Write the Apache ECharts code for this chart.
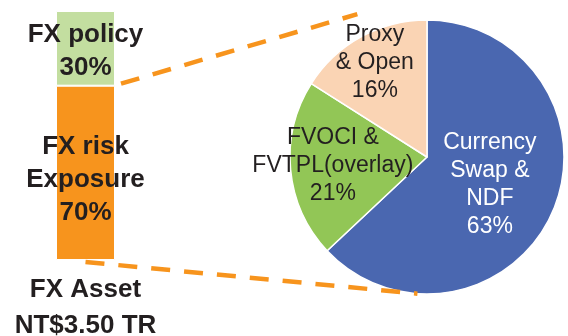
<!DOCTYPE html>
<html>
<head>
<meta charset="utf-8">
<script src="https://cdn.jsdelivr.net/npm/echarts@6/dist/echarts.min.js"></script>
<style>
  html, body { margin: 0; padding: 0; background: #fff; }
  #chart { width: 568px; height: 336px; }
</style>
</head>
<body>
<div id="chart"></div>
<script>
// bar: FX asset split
const barCategory = ['FX Asset\nNT$3.50 TR']
const barNames = ['FX risk\nExposure', 'FX policy']
const barValues = [70, 30]

// pie: hedge breakdown of FX risk exposure
const pieNames = ['Currency\nSwap &\nNDF', 'FVOCI &\nFVTPL(overlay)', 'Proxy\n& Open']
const pieValues = [63, 21, 16]

const barColors = ['#F7941D', '#C3DEA0']
const pieColors = ['#4A67B0', '#92C656', '#FAD4B4']
const pieLabelColors = ['#ffffff', '#231F20', '#231F20']
// how far out each slice label sits (fraction of radius)
const pieLabelRadius = [0.5, 0.69, 0.79]

const FONT = '"Liberation Sans", Arial, sans-serif'
const PIE_CENTER = [427, 157]
const PIE_R = 137

const chart = echarts.init(document.getElementById('chart'))

const total = pieValues.reduce((s, v) => s + v, 0)
const midAngles = []
let acc = 0
pieValues.forEach((v) => {
  midAngles.push(((acc + v / 2) / total) * 2 * Math.PI)
  acc += v
})

chart.setOption({
  animation: false,
  grid: { left: 56, width: 59, top: 11, bottom: 76, outerBoundsMode: 'none', containLabel: false },
  xAxis: {
    type: 'category',
    data: barCategory,
    axisLine: { show: false },
    axisTick: { show: false },
    axisLabel: {
      margin: 12,
      fontFamily: FONT,
      fontSize: 26,
      fontWeight: 'bold',
      lineHeight: 36,
      color: '#231F20',
    },
  },
  yAxis: { type: 'value', min: 0, max: 100, show: false },
  series: [
    ...barNames.map((name, i) => ({
      type: 'bar',
      stack: 'asset',
      barWidth: '100%',
      data: [barValues[i]],
      itemStyle: { color: barColors[i], borderColor: '#fff', borderWidth: 1 },
      label: {
        show: true,
        position: 'inside',
        offset: [0, i === 0 ? 7 : 3],
        formatter: () => `${name}\n${barValues[i]}%`,
        fontFamily: FONT,
        fontSize: 26,
        fontWeight: 'bold',
        lineHeight: 33,
        color: '#231F20',
      },
    })),
    {
      type: 'pie',
      center: PIE_CENTER,
      radius: PIE_R,
      startAngle: 90,
      clockwise: true,
      z: 1,
      data: pieNames.map((name, i) => ({
        name,
        value: pieValues[i],
        itemStyle: { color: pieColors[i] },
        label: { color: pieLabelColors[i] },
      })),
      itemStyle: { borderColor: '#fff', borderWidth: 1.5 },
      label: {
        show: true,
        position: 'inside',
        formatter: (p) => `${p.name}\n${p.value}%`,
        fontFamily: FONT,
        fontSize: 23,
        lineHeight: 28,
      },
      labelLine: { show: false },
      labelLayout: (p) => {
        if (p.seriesIndex !== 2) return {}
        const a = midAngles[p.dataIndex]
        const r = pieLabelRadius[p.dataIndex] * PIE_R
        return {
          x: PIE_CENTER[0] + r * Math.sin(a),
          y: PIE_CENTER[1] - r * Math.cos(a),
          align: 'center',
          verticalAlign: 'middle',
        }
      },
      emphasis: { disabled: true },
    },
  ],
})

// dashed connectors from the bar's exposure segment to the pie
const barW = 59
const boundary = chart.convertToPixel({ gridIndex: 0 }, [0, barValues[0]])
const bottom = chart.convertToPixel({ gridIndex: 0 }, [0, 0])
const piePoint = (deg, f) => {
  const a = (deg * Math.PI) / 180
  return [PIE_CENTER[0] + f * PIE_R * Math.sin(a), PIE_CENTER[1] - f * PIE_R * Math.cos(a)]
}
const topEnd = piePoint(334, 1.16)
const botEnd = piePoint(184, 1.0)
const dash = { stroke: '#F7941D', lineWidth: 4.5, lineDash: [19, 14] }

chart.setOption({
  graphic: {
    elements: [
      {
        type: 'line',
        z: 100,
        shape: { x1: boundary[0] + barW / 2 + 6, y1: boundary[1] - 2, x2: topEnd[0], y2: topEnd[1] },
        style: dash,
      },
      {
        type: 'line',
        z: 100,
        shape: { x1: bottom[0], y1: bottom[1] + 2, x2: botEnd[0], y2: botEnd[1] },
        style: dash,
      },
    ],
  },
})
</script>
</body>
</html>
